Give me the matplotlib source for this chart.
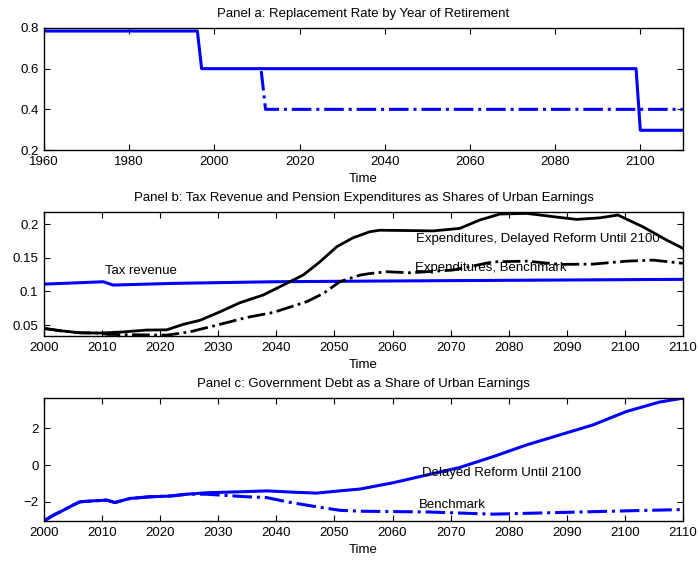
import matplotlib.pyplot as plt
import numpy as np

plt.rcParams['font.family'] = ['Liberation Sans', 'DejaVu Sans']
plt.rcParams['font.size'] = 9.5

# Panel a: replacement rate by year of retirement
rr_years = [1960, 1996, 1997, 2099, 2100, 2110]
rr_delayed = [0.785, 0.785, 0.60, 0.60, 0.297, 0.297]
rr_bench_years = [2011, 2012, 2110]
rr_bench = [0.588, 0.40, 0.40]

# Panel b: tax revenue and pension expenditures (share of urban earnings)
tax_years = [2000, 2010.2, 2011.9, 2022.3, 2039.5, 2056.1, 2110]
tax_rev = [0.1108, 0.1143, 0.1094, 0.1119, 0.1143, 0.1153, 0.1179]

exp_years = [2000, 2002.75, 2006.2, 2009.6, 2013.6, 2017.7, 2021.1, 2024, 2026.9, 2030.3,
             2033.7, 2037.7, 2040.6, 2044.6, 2047.5, 2050.4, 2053.2, 2056.1, 2057.8, 2063,
             2067, 2071.6, 2075, 2078.5, 2083.1, 2087.7, 2091.7, 2095.7, 2098.8, 2103.1,
             2107.2, 2110]
exp_delayed = [0.045, 0.0416, 0.0385, 0.0381, 0.0398, 0.0426, 0.0429, 0.0511, 0.0572, 0.0697,
               0.0831, 0.0945, 0.1069, 0.1242, 0.1439, 0.1663, 0.1796, 0.1886, 0.1908, 0.1903,
               0.1898, 0.1936, 0.2059, 0.2149, 0.2158, 0.2109, 0.2069, 0.2092, 0.2134, 0.1959,
               0.1762, 0.1639]

bench_years = [2000, 2002.75, 2006.2, 2009.6, 2011, 2021.1, 2025.1, 2030.3, 2034.9, 2039.5,
               2045.2, 2048.1, 2050.9, 2054.4, 2056.1, 2059, 2063, 2070.4, 2073.3, 2077.3,
               2083.1, 2088.8, 2094.5, 2100.3, 2104.9, 2110]
exp_bench = [0.045, 0.0416, 0.0385, 0.0381, 0.0361, 0.035, 0.0399, 0.0511, 0.0613, 0.0688,
             0.0846, 0.097, 0.1143, 0.1242, 0.1265, 0.1292, 0.1276, 0.1317, 0.1367, 0.1439,
             0.1449, 0.1401, 0.1405, 0.1449, 0.1464, 0.1417]

# Panel c: government debt as a share of urban earnings
debt_years = [2000, 2001.6, 2003.3, 2005, 2006.2, 2008.5, 2010.8, 2012.2, 2014.8, 2018.2,
              2021.7, 2024.6, 2028, 2033.7, 2038.3, 2042.9, 2046.9, 2050.9, 2054.4, 2060.1,
              2065.9, 2071.6, 2077.3, 2083.1, 2088.8, 2094.5, 2100.3, 2106, 2110]
debt_delayed = [-3.02, -2.72, -2.45, -2.17, -1.99, -1.94, -1.90, -2.03, -1.81, -1.72,
                -1.68, -1.58, -1.50, -1.45, -1.40, -1.47, -1.52, -1.40, -1.30, -0.96,
                -0.54, -0.13, 0.45, 1.09, 1.63, 2.17, 2.90, 3.41, 3.62]
debt_bench_years = [2000, 2001.6, 2003.3, 2005, 2006.2, 2008.5, 2010.8, 2012.2, 2014.8,
                    2018.2, 2021.7, 2024.6, 2028, 2034.9, 2038.3, 2041.8, 2046.9, 2050.9,
                    2054.4, 2065.9, 2077.3, 2088.8, 2100.3, 2110]
debt_bench = [-3.02, -2.72, -2.45, -2.17, -1.99, -1.94, -1.90, -2.03, -1.81, -1.72, -1.68,
              -1.58, -1.58, -1.72, -1.76, -1.99, -2.26, -2.45, -2.50, -2.54, -2.66, -2.57,
              -2.48, -2.41]

fig = plt.figure(figsize=(6.99, 5.61), dpi=100)
ax_a = fig.add_axes([0.063, 0.7326, 0.914, 0.2175])
ax_b = fig.add_axes([0.063, 0.401, 0.914, 0.221])
ax_c = fig.add_axes([0.063, 0.0713, 0.914, 0.219])


def matlab_style(ax, title):
    ax.tick_params(direction='in', top=True, right=True, length=4, width=0.8, pad=4)
    for s in ax.spines.values():
        s.set_linewidth(1.0)
    ax.set_xlabel('Time', labelpad=4)
    ax.set_title(title, fontsize=9.5, pad=8)


# Panel a
ax_a.plot(rr_years, rr_delayed, color='blue', lw=2.2)
ax_a.plot(rr_bench_years, rr_bench, color='blue', lw=2.2, ls='-.')
ax_a.set_xlim(1960, 2110)
ax_a.set_ylim(0.2, 0.8)
ax_a.set_xticks(np.arange(1960, 2101, 20))
ax_a.set_yticks([0.2, 0.4, 0.6, 0.8])
matlab_style(ax_a, 'Panel a: Replacement Rate by Year of Retirement')

# Panel b
ax_b.plot(tax_years, tax_rev, color='blue', lw=2.2)
ax_b.plot(exp_years, exp_delayed, color='black', lw=2)
ax_b.plot(bench_years, exp_bench, color='black', lw=2, ls='-.')
ax_b.text(2010.5, 0.1306, 'Tax revenue', va='center')
ax_b.text(2064.1, 0.1773, 'Expenditures, Delayed Reform Until 2100', va='center')
ax_b.text(2063.9, 0.135, 'Expenditures, Benchmark', va='center')
ax_b.set_xlim(2000, 2110)
ax_b.set_ylim(0.0337, 0.2178)
ax_b.set_xticks(np.arange(2000, 2111, 10))
ax_b.set_yticks([0.05, 0.1, 0.15, 0.2])
ax_b.set_yticklabels(['0.05', '0.1', '0.15', '0.2'])
matlab_style(ax_b, 'Panel b: Tax Revenue and Pension Expenditures as Shares of Urban Earnings')

# Panel c
ax_c.plot(debt_years, debt_delayed, color='blue', lw=2.2)
ax_c.plot(debt_bench_years, debt_bench, color='blue', lw=2.2, ls='-.')
ax_c.text(2065.1, -0.42, 'Delayed Reform Until 2100', va='center')
ax_c.text(2064.6, -2.14, 'Benchmark', va='center')
ax_c.set_xlim(2000, 2110)
ax_c.set_ylim(-3.03, 3.62)
ax_c.set_xticks(np.arange(2000, 2111, 10))
ax_c.set_yticks([-2, 0, 2])
matlab_style(ax_c, 'Panel c: Government Debt as a Share of Urban Earnings')

fig.savefig('out.png', dpi=100)
